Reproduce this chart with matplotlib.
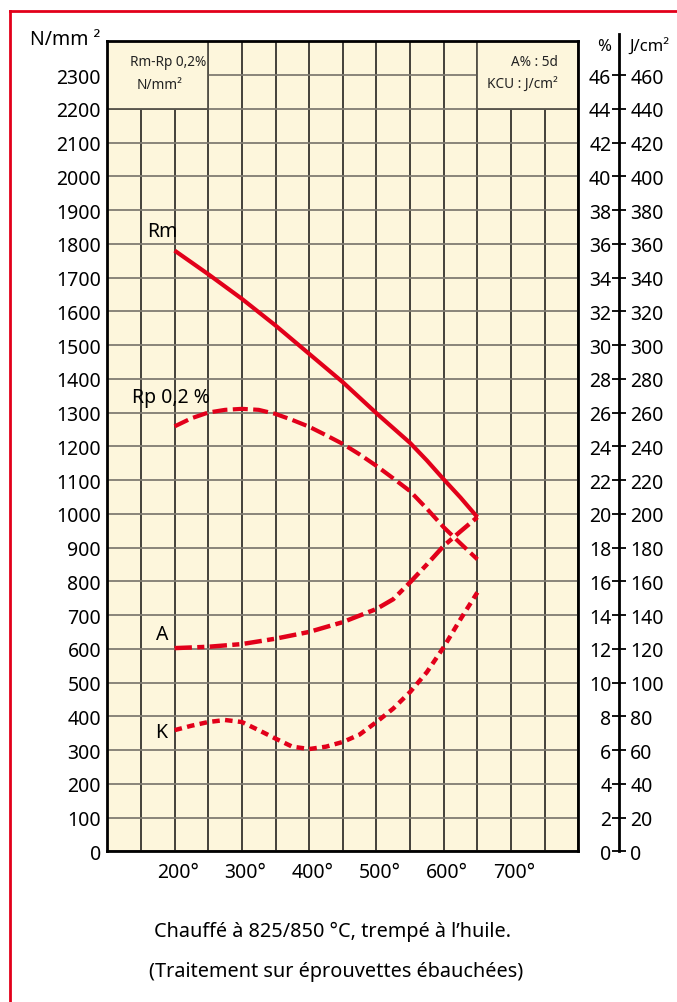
import numpy as np
import matplotlib
matplotlib.use("Agg")
import matplotlib.pyplot as plt
from matplotlib.patches import Rectangle
from matplotlib.lines import Line2D
import matplotlib.transforms as mtransforms

plt.rcParams['font.family'] = ['Noto Sans', 'DejaVu Sans']

# ---------------- data ----------------
# Temperature (°C)
temp_rm = [200, 250, 300, 350, 400, 450, 500, 550, 575, 600, 625, 650]
rm_vals = [1780, 1710, 1637, 1558, 1474, 1390, 1298, 1210, 1158, 1102, 1048, 990]   # N/mm²

temp_rp = [200, 225, 250, 275, 300, 325, 350, 375, 400, 425, 450, 475, 500, 525, 550, 575, 600, 625, 650]
rp_vals = [1259, 1283, 1300, 1308, 1311, 1308, 1296, 1278, 1258, 1233, 1207, 1176, 1142, 1105, 1067, 1015, 960, 912, 865]  # N/mm²

temp_a = [200, 250, 300, 350, 400, 450, 500, 525, 550, 575, 600, 625, 650]
a_vals = [12.04, 12.12, 12.28, 12.6, 13.0, 13.58, 14.36, 14.94, 15.94, 17.0, 18.1, 18.96, 19.8]  # %

temp_k = [200, 225, 250, 275, 300, 325, 350, 375, 400, 425, 450, 475, 500, 525, 550, 575, 600, 625, 650]
k_vals = [71.8, 74.4, 76.6, 77.8, 76.6, 71.8, 66.8, 62.0, 60.6, 62.0, 64.8, 69.2, 76.6, 84.6, 94.4, 106.2, 121.0, 137.6, 153.4]  # J/cm²

y_ticks = list(range(0, 2301, 100))
pct_ticks = list(range(0, 47, 2))
j_ticks = list(range(0, 461, 20))
x_ticks = [200, 300, 400, 500, 600, 700]
x_labels = ["200°", "300°", "400°", "500°", "600°", "700°"]
grid_x = list(range(100, 801, 50))
grid_y = list(range(0, 2401, 100))

caption1 = "Chauffé à 825/850 °C, trempé à l’huile."
caption2 = "(Traitement sur éprouvettes ébauchées)"

# ---------------- style ----------------
W, H = 677, 1003
RED = '#e2001a'
BG = '#fdf6dc'
fig = plt.figure(figsize=(W / 100, H / 100), dpi=100)
fig.patch.set_facecolor('white')

def fy(py):
    return 1 - py / H

L, R, T, B = 107.3, 578.3, 42.3, 852.3
ax = fig.add_axes([L / W, fy(B), (R - L) / W, (B - T) / H])
ax.set_xlim(100, 800)
ax.set_ylim(0, 2400)
ax.set_facecolor(BG)

ax.vlines(grid_x, 0, 2400, colors='#35332e', lw=1.3, zorder=1)
ax.hlines(grid_y, 100, 800, colors='#807c72', lw=1.3, zorder=1)

# header boxes
for x0 in (100, 650):
    ax.add_patch(Rectangle((x0, 2200), 150, 200, facecolor=BG, edgecolor='#555249',
                           lw=1.3, zorder=1.5))
ax.text(133, 2339, "Rm-Rp 0,2%", fontsize=9.8, ha='left', va='center', color='#222', zorder=3)
ax.text(143, 2272, "N/mm²", fontsize=9.8, ha='left', va='center', color='#222', zorder=3)
ax.text(770, 2339, "A% : 5d", fontsize=9.8, ha='right', va='center', color='#222', zorder=3)
ax.text(770, 2272, "KCU : J/cm²", fontsize=9.8, ha='right', va='center', color='#222', zorder=3)

for s in ax.spines.values():
    s.set_linewidth(2.0)
    s.set_color('black')
    s.set_zorder(5)

ax.set_yticks(y_ticks)
ax.set_yticklabels([str(v) for v in y_ticks])
ax.set_xticks(x_ticks)
ax.set_xticklabels(x_labels)
ax.tick_params(axis='y', length=0, pad=4.5, labelsize=14)
ax.tick_params(axis='x', length=0, pad=8, labelsize=14)
off = mtransforms.ScaledTranslation(3 / 100, 0, fig.dpi_scale_trans)
for lab in ax.get_xticklabels():
    lab.set_transform(lab.get_transform() + off)

# curves
ax.plot(temp_rm, rm_vals, color=RED, lw=3, solid_capstyle='butt', solid_joinstyle='round', zorder=4)
ax.plot(temp_rp, rp_vals, color=RED, lw=3, linestyle=(0, (3.6, 1.3)), dash_capstyle='butt', zorder=4)

axA = ax.twinx()
axA.set_ylim(0, 48)
axK = ax.twinx()
axK.set_ylim(0, 480)
for a in (axA, axK):
    a.set_axis_off()
axA.plot(temp_a, a_vals, color=RED, lw=3.2, linestyle=(0, (3.9, 1.2, 1.6, 1.2)), dash_capstyle='butt', zorder=4)
axK.plot(temp_k, k_vals, color=RED, lw=3.2, linestyle=(0, (1.7, 1.2)), dash_capstyle='butt', zorder=4)

# curve labels
axK.text(182, 1839 / 5, "Rm", fontsize=14, ha='center', va='center')
axK.text(194, 1345 / 5, "Rp 0,2 %", fontsize=14, ha='center', va='center')
axK.text(181, 644 / 5, "A", fontsize=14, ha='center', va='center')
axK.text(180, 354 / 5, "K", fontsize=14, ha='center', va='center')

# left unit
fig.text(100 / W, fy(40), "N/mm ²", fontsize=14, ha='right', va='center')

# right double axis
TOPR = 35
ax2 = fig.add_axes([619 / W, fy(B), 1e-4, (B - TOPR) / H])
ymax_pct = 48 + (T - TOPR) / ((B - T) / 48)
ax2.set_ylim(0, ymax_pct)
ax2.patch.set_visible(False)
for k, s in ax2.spines.items():
    s.set_visible(k == 'left')
ax2.spines['left'].set_linewidth(2.0)
ax2.set_xticks([])
ax2.set_yticks(pct_ticks)
ax2.set_yticklabels([str(v) for v in pct_ticks])
ax2.tick_params(axis='y', direction='inout', length=10, width=1.3, pad=0.5, labelsize=14)
ax3 = ax2.twinx()
ax3.set_ylim(0, ymax_pct * 10)
ax3.patch.set_visible(False)
for s in ax3.spines.values():
    s.set_visible(False)
ax3.set_yticks(j_ticks)
ax3.set_yticklabels([str(v) for v in j_ticks])
ax3.tick_params(axis='y', length=0, pad=8, labelsize=14)
fig.text(604 / W, fy(47), "%", fontsize=12, ha='center', va='center')
fig.text(649 / W, fy(47), "J/cm²", fontsize=12, ha='center', va='center')

# captions
fig.text(332 / W, fy(932), caption1, fontsize=14.3, ha='center', va='center')
fig.text(336 / W, fy(972), caption2, fontsize=14.3, ha='center', va='center')

# red frame
fig.add_artist(Line2D([10 / W, 10 / W], [fy(12), 0], color=RED, lw=2))
fig.add_artist(Line2D([10 / W, 1], [fy(12), fy(12)], color=RED, lw=2))

fig.savefig("out.png", dpi=100, facecolor='white')
